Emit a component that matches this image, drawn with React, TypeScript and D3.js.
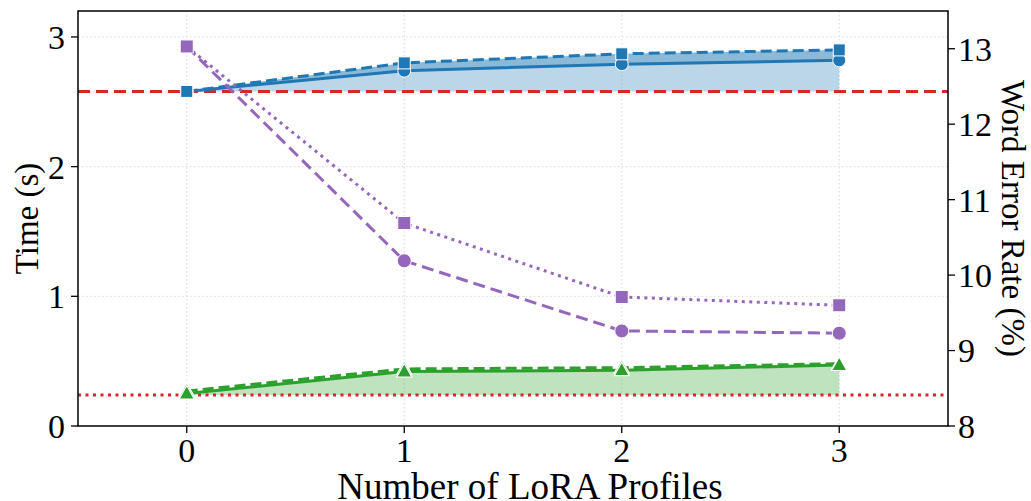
import * as d3 from 'd3';

const profiles = [0, 1, 2, 3];
// blue (time, left axis)
const timeDashed = [2.58, 2.8, 2.87, 2.9];
const timeSolid = [2.58, 2.74, 2.79, 2.82];
// green (time, left axis)
const greenSolid = [0.25, 0.42, 0.43, 0.47];
const greenDashed = [0.27, 0.44, 0.45, 0.48];
// purple (WER, right axis)
const werDashed = [13.03, 10.19, 9.26, 9.23];
const werDotted = [13.03, 10.69, 9.71, 9.6];
// reference lines
const timeRef = 2.58;
const greenRef = 0.24;

const leftTicks = [0, 1, 2, 3];
const rightTicks = [8, 9, 10, 11, 12, 13];

const W = 1031;
const H = 501;
const m = { left: 78, right: 948, top: 11, bottom: 426 };

const BLUE = '#1f77b4';
const GREEN = '#2ca02c';
const PURPLE = '#9467bd';
const RED = '#d62728';
const FONT = '"Liberation Serif", "Times New Roman", serif';

const x = d3.scaleLinear().domain([-0.5, 3.5]).range([m.left, m.right]);
const yL = d3.scaleLinear().domain([0, 3.2]).range([m.bottom, m.top]);
const yR = d3.scaleLinear().domain([8, 13.5]).range([m.bottom, m.top]);

const lineOf = (vals: number[], y: d3.ScaleLinear<number, number>) =>
  d3.line<number>().x((_, i) => x(profiles[i])).y((d) => y(d))(vals) || '';

const bandOf = (lo: number[], hi: number[]) =>
  d3.area<number>()
    .x((_, i) => x(profiles[i]))
    .y0((_, i) => yL(lo[i]))
    .y1((d) => yL(d))(hi) || '';

const sq = (cx: number, cy: number, s: number, fill: string, key: string) => (
  <rect key={key} x={cx - s / 2} y={cy - s / 2} width={s} height={s} fill={fill} stroke="#fff" strokeWidth={1} />
);
const circ = (cx: number, cy: number, r: number, fill: string, key: string) => (
  <circle key={key} cx={cx} cy={cy} r={r} fill={fill} stroke="#fff" strokeWidth={1} />
);
const tri = (cx: number, cy: number, s: number, fill: string, key: string) => (
  <path key={key} d={`M${cx},${cy - s * 0.62}L${cx + s * 0.58},${cy + s * 0.42}L${cx - s * 0.58},${cy + s * 0.42}Z`} fill={fill} stroke="#fff" strokeWidth={1.2} />
);

export default function App() {
  const base = profiles.map(() => timeRef);
  const gbase = profiles.map(() => greenRef);
  return (
    <svg width={W} height={H} style={{ position: 'absolute', left: 0, top: 0, background: '#fff' }} fontFamily={FONT}>
      <defs>
        <clipPath id="plot">
          <rect x={m.left} y={m.top} width={m.right - m.left} height={m.bottom - m.top} />
        </clipPath>
      </defs>
      {/* grid */}
      <g stroke="#d9d9d9" strokeWidth={1} strokeDasharray="1.5,2.5">
        {profiles.map((p) => <line key={'gx' + p} x1={x(p)} x2={x(p)} y1={m.top} y2={m.bottom} />)}
        {leftTicks.slice(1).map((t) => <line key={'gy' + t} x1={m.left} x2={m.right} y1={yL(t)} y2={yL(t)} />)}
      </g>
      <g clipPath="url(#plot)">
        {/* fills */}
        <path d={bandOf(base, timeDashed)} fill={BLUE} opacity={0.3} />
        <path d={bandOf(timeSolid, timeDashed)} fill={BLUE} opacity={0.3} />
        <path d={bandOf(gbase, greenSolid)} fill={GREEN} opacity={0.3} />
        {/* reference lines */}
        <line x1={m.left} x2={m.right} y1={yL(timeRef)} y2={yL(timeRef)} stroke={RED} strokeWidth={3} strokeDasharray="12,6" />
        <line x1={m.left} x2={m.right} y1={yL(greenRef)} y2={yL(greenRef)} stroke={RED} strokeWidth={3} strokeDasharray="3,4.5" />
        {/* lines */}
        <path d={lineOf(timeSolid, yL)} fill="none" stroke={BLUE} strokeWidth={3} />
        <path d={lineOf(timeDashed, yL)} fill="none" stroke={BLUE} strokeWidth={3} strokeDasharray="11,5" />
        <path d={lineOf(greenDashed, yL)} fill="none" stroke={GREEN} strokeWidth={3} strokeDasharray="11,5" />
        <path d={lineOf(greenSolid, yL)} fill="none" stroke={GREEN} strokeWidth={3} />
        <path d={lineOf(werDashed, yR)} fill="none" stroke={PURPLE} strokeWidth={3} strokeDasharray="12,6" />
        <path d={lineOf(werDotted, yR)} fill="none" stroke={PURPLE} strokeWidth={3} strokeDasharray="3,4.5" />
        {/* markers */}
        {timeSolid.map((v, i) => circ(x(profiles[i]), yL(v), 6.5, BLUE, 'bc' + i))}
        {timeDashed.map((v, i) => sq(x(profiles[i]), yL(v), 12, BLUE, 'bs' + i))}
        {greenDashed.map((v, i) => tri(x(profiles[i]), yL(v), 13, GREEN, 'gd' + i))}
        {greenSolid.map((v, i) => tri(x(profiles[i]), yL(v), 13, GREEN, 'gs' + i))}
        {werDashed.map((v, i) => circ(x(profiles[i]), yR(v), 7, PURPLE, 'pc' + i))}
        {werDotted.map((v, i) => sq(x(profiles[i]), yR(v), 13, PURPLE, 'ps' + i))}
      </g>
      {/* frame */}
      <rect x={m.left} y={m.top} width={m.right - m.left} height={m.bottom - m.top} fill="none" stroke="#000" strokeWidth={1.5} />
      {/* x ticks */}
      {profiles.map((p) => (
        <g key={'xt' + p}>
          <line x1={x(p)} x2={x(p)} y1={m.bottom} y2={m.bottom + 7} stroke="#000" strokeWidth={1.3} />
          <text x={x(p)} y={m.bottom + 36} textAnchor="middle" fontSize={34}>{p}</text>
        </g>
      ))}
      {leftTicks.map((t) => (
        <g key={'lt' + t}>
          <line x1={m.left - 7} x2={m.left} y1={yL(t)} y2={yL(t)} stroke="#000" strokeWidth={1.3} />
          <text x={m.left - 13} y={yL(t)} dy="0.35em" textAnchor="end" fontSize={34}>{t}</text>
        </g>
      ))}
      {rightTicks.map((t) => (
        <g key={'rt' + t}>
          <line x1={m.right} x2={m.right + 7} y1={yR(t)} y2={yR(t)} stroke="#000" strokeWidth={1.3} />
          <text x={m.right + 10} y={yR(t)} dy="0.35em" textAnchor="start" fontSize={34}>{t}</text>
        </g>
      ))}
      <text x={530} y={499} textAnchor="middle" fontSize={37}>Number of LoRA Profiles</text>
      <text transform={`translate(38,${(m.top + m.bottom) / 2}) rotate(-90)`} textAnchor="middle" fontSize={33}>Time (s)</text>
      <text transform={`translate(1002,${(m.top + m.bottom) / 2}) rotate(90)`} textAnchor="middle" fontSize={33}>Word Error Rate (%)</text>
    </svg>
  );
}
